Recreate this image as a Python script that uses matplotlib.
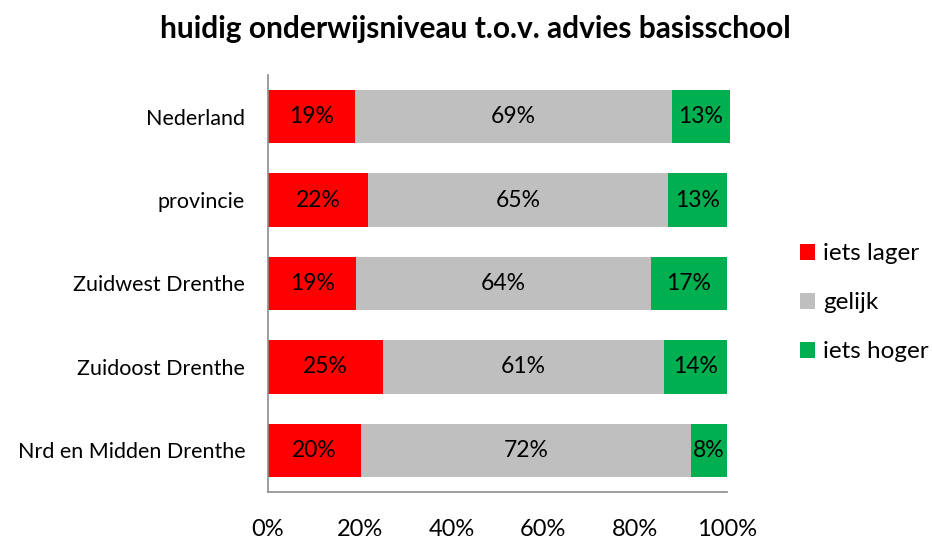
import matplotlib
matplotlib.use("Agg")
import matplotlib.pyplot as plt
import numpy as np

categories = ["Nederland", "provincie", "Zuidwest Drenthe", "Zuidoost Drenthe", "Nrd en Midden Drenthe"]
iets_lager = [19.0, 21.8, 19.2, 25.0, 20.3]
gelijk = [69.0, 65.3, 64.2, 61.2, 71.8]
iets_hoger = [12.6, 12.9, 16.6, 13.7, 7.8]
series_names = ["iets lager", "gelijk", "iets hoger"]
colors = ["#FF0000", "#BFBFBF", "#00B050"]
xticks = [0, 20, 40, 60, 80, 100]
title = "huidig onderwijsniveau t.o.v. advies basisschool"

plt.rcParams['font.family'] = ['Lato', 'DejaVu Sans']

fig = plt.figure(figsize=(9.32, 5.39), dpi=100)
ax = fig.add_axes([0.2876, 0.0872, 0.780 - 0.2876, 0.8609 - 0.0872])

y = np.arange(len(categories))
left = np.zeros(len(categories))
for name, vals, c in zip(series_names, [iets_lager, gelijk, iets_hoger], colors):
    vals = np.array(vals)
    bars = ax.barh(y, vals, left=left, height=0.64, color=c, label=name, edgecolor='none')
    for b in bars:
        b.set_clip_on(False)
    for yi, l, v in zip(y, left, vals):
        ax.text(l + v / 2, yi, f"{int(v + 0.5)}%", ha='center', va='center',
                fontsize=16.5, color='black')
    left = left + vals

ax.set_ylim(len(categories) - 0.5, -0.5)
ax.set_xlim(0, 100)
ax.set_yticks(y)
ax.set_yticklabels(categories, fontsize=15.5)
ax.set_xticks(xticks)
ax.set_xticklabels([f"{t}%" for t in xticks], fontsize=17)
ax.tick_params(axis='both', length=0)
ax.tick_params(axis='y', pad=16.5)
ax.tick_params(axis='x', pad=19.5)
for s in ['top', 'right']:
    ax.spines[s].set_visible(False)
for s in ['left', 'bottom']:
    ax.spines[s].set_color('#8C8C8C')
    ax.spines[s].set_linewidth(1.2)

leg = fig.legend(loc='center left', bbox_to_anchor=(0.858, 0.438), frameon=False,
                 fontsize=17.5, handlelength=0.62, handleheight=0.62, handletextpad=0.34,
                 labelspacing=1.15, borderpad=0, borderaxespad=0)

fig.text(0.51, 0.947, title, ha='center', va='center', fontsize=21.5, fontweight='bold')

fig.savefig("out.png", dpi=100)
